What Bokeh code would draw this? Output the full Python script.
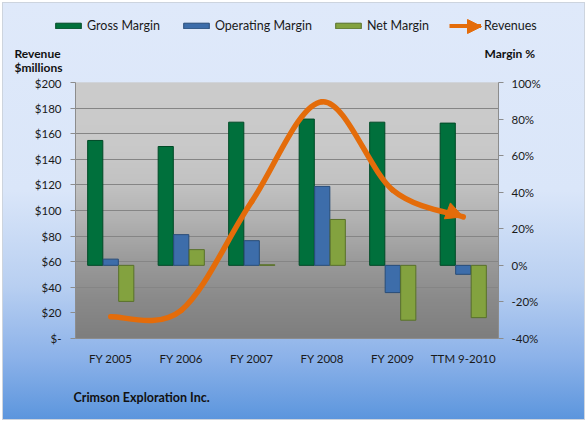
import numpy as np
from bokeh.plotting import figure
from bokeh.layouts import column
from bokeh.models import (Range1d, LinearAxis, FixedTicker, CustomJSTickFormatter,
                          Legend, LegendItem, Label, Arrow, NormalHead)
from bokeh.embed import file_html
from bokeh.resources import INLINE

categories = ["FY 2005", "FY 2006", "FY 2007", "FY 2008", "FY 2009", "TTM 9-2010"]
gross_margin = [68.3, 65.0, 78.3, 80.0, 78.3, 77.8]
operating_margin = [3.4, 16.8, 13.5, 43.2, -14.9, -4.9]
net_margin = [-19.7, 8.6, 0.3, 25.1, -30.0, -28.6]
revenues = [17, 22, 107, 185, 116, 95]
revenue_ticks = [0, 20, 40, 60, 80, 100, 120, 140, 160, 180, 200]
margin_ticks = [-40, -20, 0, 20, 40, 60, 80, 100]

FONT = "Lato"
ORANGE = "#E46C0A"
GREEN, GREEN_E = "#00703C", "#004A27"
BLUE, BLUE_E = "#3D6DAA", "#284C78"
OLIVE, OLIVE_E = "#83A23F", "#58702A"
W = 583
TOP_H = 74


def strip(height):
    f = figure(width=W, height=height, x_range=Range1d(0, W), y_range=Range1d(0, height),
               output_backend="svg", toolbar_location=None,
               x_axis_type=None, y_axis_type=None,
               min_border_left=0, min_border_right=0, min_border_top=0, min_border_bottom=0)
    f.frame_align = False
    f.border_fill_alpha = 0
    f.background_fill_alpha = 0
    f.outline_line_color = None
    return f


def bold_label(f, txt, x, y, size="12px"):
    f.add_layout(Label(x=x, y=y, text=txt, text_font=FONT, text_font_size=size,
                       text_font_style="bold", text_baseline="middle", text_align="left",
                       text_color="#111111"))


# ---------------- top strip: legend + axis titles ----------------
top = strip(TOP_H)
# legend-only swatch renderers (their single placeholder sits far outside the view)
g_g = top.vbar(x=[-1000], top=[0], width=1, fill_color=GREEN, line_color=GREEN_E)
g_o = top.vbar(x=[-1000], top=[0], width=1, fill_color=BLUE, line_color=BLUE_E)
g_n = top.vbar(x=[-1000], top=[0], width=1, fill_color=OLIVE, line_color=OLIVE_E)
g_r = top.line(x=[-1000, -999], y=[0, 0], line_color=ORANGE, line_width=4)
legend = Legend(items=[LegendItem(label="Gross Margin", renderers=[g_g]),
                       LegendItem(label="Operating Margin", renderers=[g_o]),
                       LegendItem(label="Net Margin", renderers=[g_n]),
                       LegendItem(label="Revenues", renderers=[g_r])],
                orientation="horizontal", location=(50, TOP_H - 31))
legend.glyph_width = 32
legend.glyph_height = 7
legend.label_height = 14
legend.label_standoff = 3
legend.spacing = 20
legend.padding = 0
legend.margin = 0
legend.border_line_color = None
legend.background_fill_alpha = 0
legend.label_text_font = FONT
legend.label_text_font_size = "12.5px"
legend.label_text_color = "#1a1a1a"
top.add_layout(legend)
top.add_layout(Arrow(end=NormalHead(size=14, fill_color=ORANGE, line_color=ORANGE),
                     x_start=464, y_start=TOP_H - 24, x_end=479, y_end=TOP_H - 24,
                     line_alpha=0))
bold_label(top, "Revenue", 12, TOP_H - 51)
bold_label(top, "$millions", 12, TOP_H - 65)
bold_label(top, "Margin %", 482, TOP_H - 51)

# ---------------- main chart ----------------
p = figure(width=W, height=292, x_range=Range1d(-0.5, 5.5), y_range=Range1d(0, 200),
           output_backend="svg", toolbar_location=None,
           min_border_left=73, min_border_right=87, min_border_top=6, min_border_bottom=30)
p.frame_align = False
p.extra_y_ranges = {"pct": Range1d(-40, 100)}
p.border_fill_alpha = 0
p.background_fill_color = "#c8c8c8"
p.outline_line_color = None

# plot-area gradient (light grey top -> darker grey bottom)
n = 256
t = np.linspace(0, 1, n)  # 0 bottom, 1 top
stops_t = [0.0, 0.15, 0.3, 0.45, 0.6, 0.75, 1.0]
stops_v = [0x7e, 0x8a, 0x9a, 0xb0, 0xc2, 0xc9, 0xcc]
vals = np.interp(t, stops_t, stops_v).astype(np.uint32)
img = np.empty((n, 1), dtype=np.uint32)
view = img.view(dtype=np.uint8).reshape((n, 1, 4))
view[:, 0, 0] = vals
view[:, 0, 1] = vals
view[:, 0, 2] = vals
view[:, 0, 3] = 255
bg = p.image_rgba(image=[img], x=-0.5, y=0, dw=6, dh=200)
bg.level = "image"

idx = np.arange(len(categories))
w = 0.215
p.vbar(x=idx - 0.22, top=gross_margin, bottom=0, width=w, y_range_name="pct",
       fill_color=GREEN, line_color=GREEN_E, line_width=1)
p.vbar(x=idx, top=operating_margin, bottom=0, width=w, y_range_name="pct",
       fill_color=BLUE, line_color=BLUE_E, line_width=1)
p.vbar(x=idx + 0.22, top=net_margin, bottom=0, width=w, y_range_name="pct",
       fill_color=OLIVE, line_color=OLIVE_E, line_width=1)

# smoothed revenue line (Catmull-Rom style bezier through the data points)
xs = list(idx.astype(float))
ys = revenues
N = len(xs)
x0, y0, x1, y1, cx0, cy0, cx1, cy1 = [], [], [], [], [], [], [], []
for i in range(N - 1):
    a = i - 1 if i > 0 else i
    d = i + 2 if i + 2 < N else i + 1
    x0.append(xs[i]); y0.append(ys[i]); x1.append(xs[i + 1]); y1.append(ys[i + 1])
    cx0.append(xs[i] + (xs[i + 1] - xs[a]) / 6); cy0.append(ys[i] + (ys[i + 1] - ys[a]) / 6)
    cx1.append(xs[i + 1] - (xs[d] - xs[i]) / 6); cy1.append(ys[i + 1] - (ys[d] - ys[i]) / 6)
p.bezier(x0=x0, y0=y0, x1=x1, y1=y1, cx0=cx0, cy0=cy0, cx1=cx1, cy1=cy1,
         line_color=ORANGE, line_width=5.5, line_cap="round")
p.add_layout(Arrow(end=NormalHead(size=17, fill_color=ORANGE, line_color=ORANGE),
                   x_start=cx1[-1], y_start=cy1[-1], x_end=x1[-1], y_end=y1[-1],
                   line_alpha=0))

# axes
p.yaxis.ticker = FixedTicker(ticks=revenue_ticks)
p.yaxis.formatter = CustomJSTickFormatter(code="return tick == 0 ? '$-' : '$' + tick;")
raxis = LinearAxis(y_range_name="pct", ticker=FixedTicker(ticks=margin_ticks),
                   formatter=CustomJSTickFormatter(code="return tick + '%';"))
p.add_layout(raxis, "right")
p.xaxis.ticker = FixedTicker(ticks=list(range(len(categories))))
p.xaxis.major_label_overrides = {i: c for i, c in enumerate(categories)}

for ax in [p.yaxis[0], raxis, p.xaxis[0]]:
    ax.axis_line_color = "#8c8c8c"
    ax.major_tick_line_color = "#8c8c8c"
    ax.minor_tick_line_color = None
    ax.major_label_text_font = FONT
    ax.major_label_text_font_size = "11.5px"
    ax.major_label_text_color = "#1a1a1a"
    ax.major_tick_in = 0
    ax.major_tick_out = 5
    ax.major_label_standoff = 9
p.xaxis.major_tick_line_color = None
p.xaxis.major_label_standoff = 8
raxis.major_label_standoff = 8

p.xgrid.grid_line_color = None
p.ygrid.ticker = FixedTicker(ticks=revenue_ticks)
p.ygrid.grid_line_color = "#858585"

# ---------------- bottom strip: company name ----------------
bottom = strip(52)
bold_label(bottom, "Crimson Exploration Inc.", 71, 23, "12.5px")

layout = column(top, p, bottom, spacing=0)
layout.styles = {
    "margin": "2px 0 0 2px",
    "outline": "1px solid #cdd4de",
    "outline-offset": "-1px",
    "background": "linear-gradient(180deg, #dfe9fa 0%, #dae6f9 45%, #b8cff1 68%, #8cb2e9 85%, #5b95dd 100%)",
}

open("out.html", "w").write(file_html(layout, INLINE))
